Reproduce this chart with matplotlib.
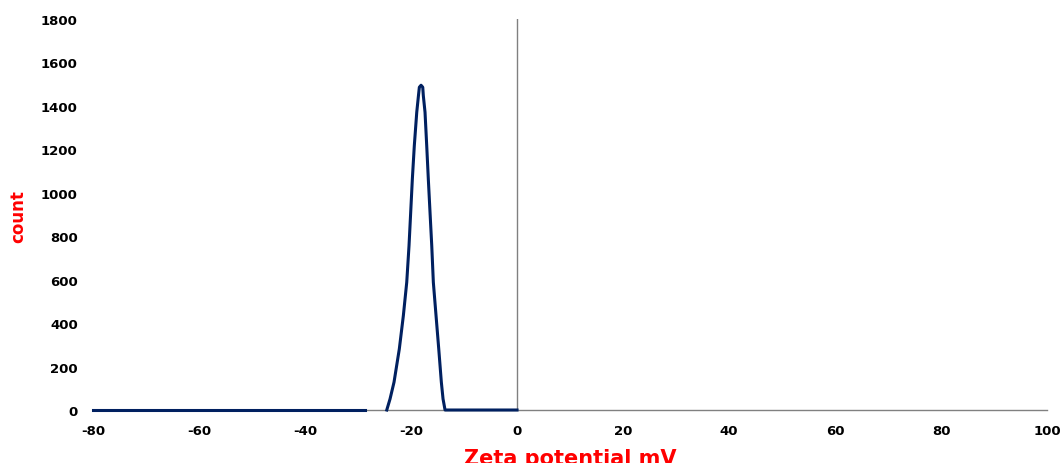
import numpy as np
import matplotlib
matplotlib.use("Agg")
import matplotlib.pyplot as plt

plt.rcParams["axes.unicode_minus"] = False

# zeta potential distribution
zeta_tail = [-80.0, -28.7]
count_tail = [0, 0]

zeta_peak = [-24.58, -23.96, -23.21, -22.21, -21.45, -20.81, -20.38, -20.06,
             -19.75, -19.38, -18.92, -18.6, -18.43, -18.11, -17.79, -17.68,
             -17.36, -17.04, -16.74, -16.42, -16.09, -15.79, -15.28, -14.77,
             -14.28, -13.96, -13.58, 0.0]
count_peak = [0, 51, 128, 281, 434, 588, 756, 912,
              1064, 1217, 1371, 1447, 1486, 1495, 1486, 1447,
              1371, 1217, 1064, 912, 756, 588, 434, 281,
              128, 51, 0, 0]

x_ticks = [-80, -60, -40, -20, 0, 20, 40, 60, 80, 100]
y_ticks = [0, 200, 400, 600, 800, 1000, 1200, 1400, 1600, 1800]

fig = plt.figure(figsize=(10.62, 4.64), dpi=100)
ax = fig.add_axes([0.0876, 0.1142, 0.8983, 0.8427])

line_col = "#002060"
ax.plot(zeta_tail, count_tail, color=line_col, lw=2.2, clip_on=False)
ax.plot(zeta_peak, count_peak, color=line_col, lw=2.2,
        solid_joinstyle="round", clip_on=False)

ax.axvline(0, color="#808080", lw=1.0, zorder=0)
ax.set_xlim(-80, 100)
ax.set_ylim(0, 1800)
ax.set_xticks(x_ticks)
ax.set_yticks(y_ticks)

for s in ["left", "top", "right"]:
    ax.spines[s].set_visible(False)
ax.spines["bottom"].set_color("#808080")
ax.spines["bottom"].set_linewidth(1.0)
ax.spines["bottom"].set_zorder(0)

ax.tick_params(axis="both", length=0, labelsize=9.5)
ax.tick_params(axis="y", pad=11)
ax.tick_params(axis="x", pad=10)
for lab in ax.get_xticklabels() + ax.get_yticklabels():
    lab.set_fontweight("bold")

fig.text(0.537, 0.033, "Zeta potential mV", color="red", fontsize=15,
         fontweight="bold", ha="center", va="top")
fig.text(0.017, 0.534, "count", color="red", fontsize=12, fontweight="bold",
         rotation=90, ha="center", va="center")

fig.savefig("out.png", dpi=100)
